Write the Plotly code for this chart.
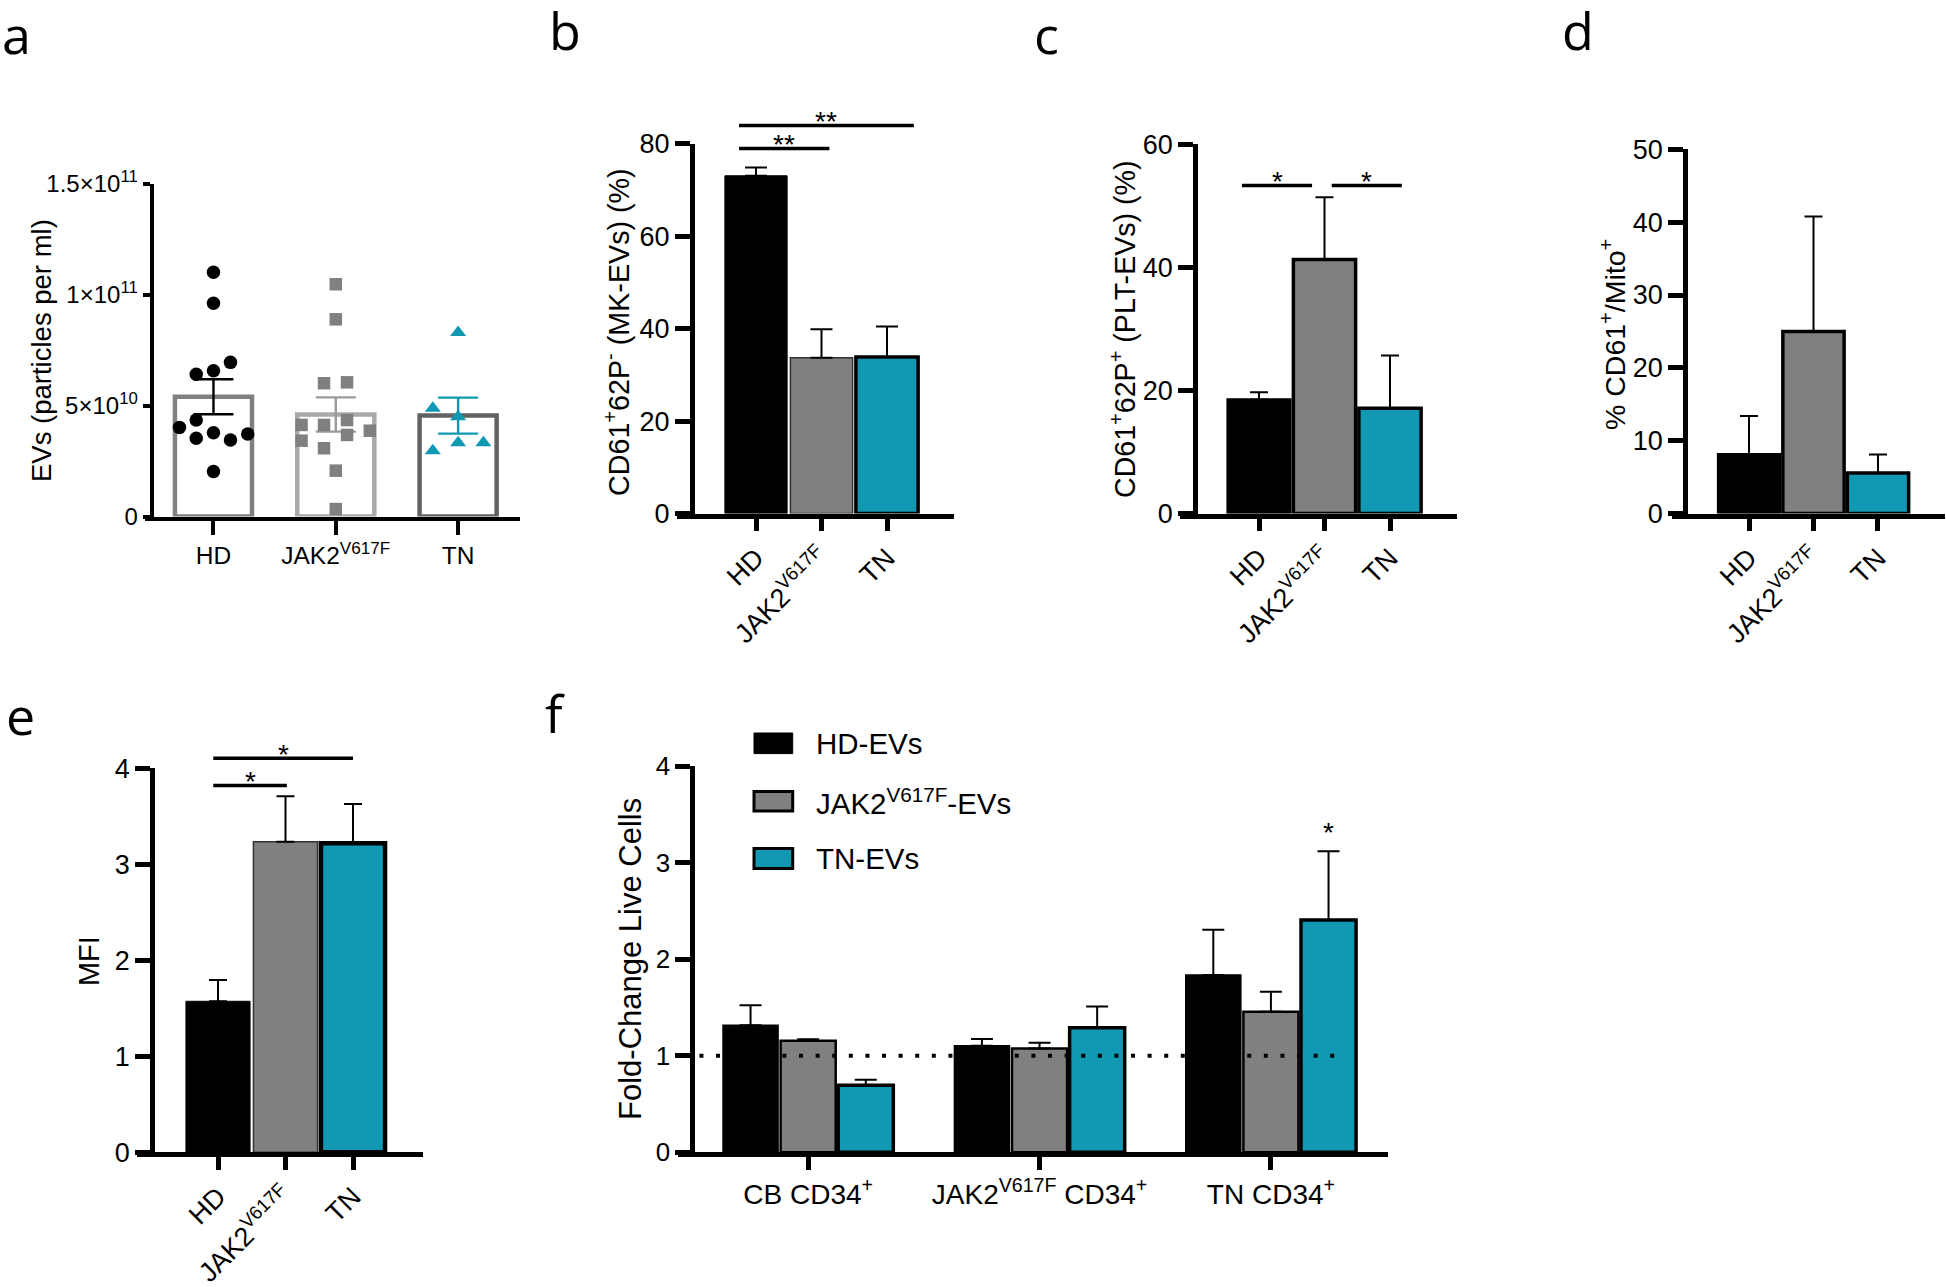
import plotly.graph_objects as go

# picture size (page body margin is removed in the written page)
W, H = 1946, 1287

# ---------------- data ----------------
groups = ["HD", "JAK2<sup>V617F</sup>", "TN"]
col_hd, col_jak2, col_tn = "#000000", "#808080", "#1199B4"

# panel a: individual samples (particles per ml)
a_hd = [1.101e11, 0.961e11, 0.695e11, 0.657e11, 0.641e11, 0.435e11,
        0.402e11, 0.378e11, 0.372e11, 0.353e11, 0.345e11, 0.203e11]
a_jak2 = [1.047e11, 0.889e11, 0.601e11, 0.605e11, 0.435e11, 0.413e11, 0.413e11,
          0.387e11, 0.368e11, 0.342e11, 0.308e11, 0.207e11, 0.034e11]
a_tn = [0.829e11, 0.488e11, 0.450e11, 0.333e11, 0.333e11, 0.297e11]
a_mean = [5.40e10, 4.60e10, 4.55e10]
a_sem = [0.79e10, 0.77e10, 0.81e10]
a_ytickvals = [0, 5e10, 1e11, 1.5e11]
a_yticktext = ["0", "5×10<sup>10</sup>", "1×10<sup>11</sup>", "1.5×10<sup>11</sup>"]

# panels b-e: mean and upper error
b_mean = [73.1, 33.7, 33.9]
b_err = [1.8, 6.2, 6.6]
c_mean = [18.5, 41.3, 17.1]
c_err = [1.2, 10.1, 8.6]
d_mean = [8.1, 25.0, 5.55]
d_err = [5.3, 15.8, 2.55]
e_mean = [1.573, 3.234, 3.218]
e_err = [0.221, 0.476, 0.41]

# panel f
f_cats = ["CB CD34<sup>+</sup>", "JAK2<sup>V617F</sup> CD34<sup>+</sup>", "TN CD34<sup>+</sup>"]
f_series = ["HD-EVs", "JAK2<sup>V617F</sup>-EVs", "TN-EVs"]
f_hd = [1.315, 1.102, 1.836]
f_hd_err = [0.208, 0.072, 0.469]
f_jak2 = [1.154, 1.074, 1.455]
f_jak2_err = [0.016, 0.060, 0.208]
f_tn = [0.693, 1.290, 2.405]
f_tn_err = [0.057, 0.221, 0.713]
f_baseline = 1.0

# significance labels
b_sig = ["**", "**"]
c_sig = ["*", "*"]
e_sig = ["*", "*"]
f_sig = "*"

# ---------------- layout geometry (pixels of the picture) ----------------
P = {
    "a": dict(x0=144.6, x1=520, ylo=516.6, yhi=183.7, xr=(-0.563, 2.506), yr=(0, 1.5e11), ypx=152),
    "b": dict(x0=676.7, x1=954, ylo=513.5, yhi=143.9, xr=(-1.211, 3.023), yr=(0, 80), ypx=691.7),
    "c": dict(x0=1180, x1=1456.7, ylo=513.5, yhi=144.4, xr=(-1.206, 3.018), yr=(0, 60), ypx=1195),
    "d": dict(x0=1672, x1=1945, ylo=513.5, yhi=149.4, xr=(-1.194, 3.039), yr=(0, 50), ypx=1685),
    "e": dict(x0=137, x1=423, ylo=1152.3, yhi=768.3, xr=(-1.2, 3.037), yr=(0, 4), ypx=152),
    "f": dict(x0=677.9, x1=1388, ylo=1152.3, yhi=766, xr=(-0.563, 2.506), yr=(0, 4), ypx=692.2),
}
ids = {"a": "", "b": "2", "c": "3", "d": "4", "e": "5", "f": "6"}
FONT = "Liberation Sans, Arial, sans-serif"


def px(x):
    return x / W


def py(y):
    return 1 - y / H


def d2p(p, x, y):
    g = P[p]
    X = g["x0"] + (x - g["xr"][0]) / (g["xr"][1] - g["xr"][0]) * (g["x1"] - g["x0"])
    Y = g["ylo"] - (y - g["yr"][0]) / (g["yr"][1] - g["yr"][0]) * (g["ylo"] - g["yhi"])
    return X, Y


fig = go.Figure()
layout = dict(width=W, height=H, margin=dict(l=0, r=0, t=0, b=0),
              paper_bgcolor="white", plot_bgcolor="white", showlegend=False,
              barmode="overlay", font=dict(family=FONT, color="black"))
shapes, annotations = [], []


def axes(p, tickvals, ticktext, tickangle, xsize, ysize, lw, xtl, ytl, ytickvals=None, yticktext=None, dtick=None):
    g = P[p]
    i = ids[p]
    layout["xaxis" + i] = dict(
        domain=[px(g["x0"]), px(g["x1"])], range=list(g["xr"]), anchor="y" + i,
        showline=True, linewidth=lw, linecolor="black", ticks="outside", ticklen=xtl,
        tickwidth=lw, tickcolor="black", tickvals=tickvals, ticktext=ticktext,
        tickangle=tickangle, tickfont=dict(family=FONT, size=xsize, color="black"),
        showgrid=False, zeroline=False, automargin=False)
    ya = dict(
        domain=[py(g["ylo"]), py(g["yhi"])], range=list(g["yr"]), anchor="free",
        position=px(g["ypx"]), showline=True, linewidth=lw, linecolor="black",
        ticks="outside", ticklen=ytl, tickwidth=lw, tickcolor="black",
        tickfont=dict(family=FONT, size=ysize, color="black"),
        showgrid=False, zeroline=False, automargin=False)
    if ytickvals is not None:
        ya.update(tickvals=ytickvals, ticktext=yticktext)
    if dtick is not None:
        ya.update(tickmode="linear", tick0=0, dtick=dtick)
    layout["yaxis" + i] = ya


def ytitle(text, x, y, size):
    annotations.append(dict(text=text, x=px(x), y=py(y), xref="paper", yref="paper",
                            showarrow=False, textangle=-90, xanchor="center", yanchor="middle",
                            font=dict(family=FONT, size=size, color="black")))


def letter(t, x, y):
    annotations.append(dict(text=t, x=px(x), y=py(y), xref="paper", yref="paper",
                            showarrow=False, xanchor="left", yanchor="middle",
                            font=dict(family="Open Sans, Noto Sans, sans-serif", size=52, color="black")))


def sig(p, xa, xb, yv, text, size=28):
    X0, Y0 = d2p(p, xa, yv)
    X1, _ = d2p(p, xb, yv)
    shapes.append(dict(type="line", xref="paper", yref="paper", x0=px(X0), x1=px(X1),
                       y0=py(Y0), y1=py(Y0), line=dict(color="black", width=3.5)))
    annotations.append(dict(text=text, x=px((X0 + X1) / 2), y=py(Y0 - 4), xref="paper", yref="paper",
                            showarrow=False, xanchor="center", yanchor="middle",
                            font=dict(family=FONT, size=size, color="black")))


# ---------------- panel a ----------------
a_off_hd = [0, 0, 0.139, 0, -0.141, -0.141, -0.278, 0, 0.280, -0.141, 0.139, 0]
a_off_jak2 = [0, 0, -0.096, 0.092, 0.092, -0.28, -0.096, 0.278, 0.092, -0.28, -0.096, 0, 0]
a_off_tn = [0, -0.207, 0, 0, 0.207, -0.207]
a_edge = ["#808080", "#a9a9a9", "#626262"]
a_errc = ["#000000", "#9a9a9a", col_tn]
for k in range(3):
    fig.add_trace(go.Bar(x=[k], y=[a_mean[k]], width=0.63, offset=-0.315,
                         marker=dict(color="rgba(255,255,255,0)", line=dict(color=a_edge[k], width=4.5)),
                         error_y=dict(type="data", array=[a_sem[k]], symmetric=True,
                                      color=a_errc[k], thickness=2.4, width=20),
                         xaxis="x", yaxis="y"))
pts = [(a_hd, a_off_hd, 0, "circle", col_hd, 13.5),
       (a_jak2, a_off_jak2, 1, "square", col_jak2, 12.5),
       (a_tn, a_off_tn, 2, "triangle-up", col_tn, 14)]
for vals, offs, k, sym, c, s in pts:
    fig.add_trace(go.Scatter(x=[k + o for o in offs], y=vals, mode="markers",
                             marker=dict(symbol=sym, color=c, size=s, line=dict(width=0)),
                             xaxis="x", yaxis="y", cliponaxis=False))
axes("a", [0, 1, 2], groups, 0, 24.5, 24, 3.8, 14, 7.5, a_ytickvals, a_yticktext)
ytitle("EVs (particles per ml)", 41, 351, 27.5)

# ---------------- panels b-e ----------------
fills = [col_hd, col_jak2, col_tn]


def bar_panel(p, mean, err, edges, capw):
    i = ids[p]
    for k in range(3):
        fig.add_trace(go.Bar(x=[k], y=[mean[k]], width=0.95, offset=-0.475,
                             marker=dict(color=fills[k], line=dict(color=edges[k][0], width=edges[k][1])),
                             error_y=dict(type="data", array=[err[k]], arrayminus=[0], symmetric=False,
                                          color="black", thickness=2, width=capw),
                             xaxis="x" + i, yaxis="y" + i))


bar_panel("b", b_mean, b_err, [("black", 1), ("#333333", 1.5), ("black", 3.5)], 11)
axes("b", [0, 1, 2], groups, -45, 27, 27, 4.5, 13, 15, dtick=20)
ytitle("CD61<sup>+</sup>62P<sup>-</sup> (MK-EVs) (%)", 617, 332, 28.7)
sig("b", -0.26, 1.12, 79.0, b_sig[0])
sig("b", -0.26, 2.41, 84.0, b_sig[1])

bar_panel("c", c_mean, c_err, [("black", 3), ("black", 3.5), ("black", 3.5)], 9)
axes("c", [0, 1, 2], groups, -45, 27, 27, 4.5, 13, 15, dtick=20)
ytitle("CD61<sup>+</sup>62P<sup>+</sup> (PLT-EVs) (%)", 1123, 329, 28.6)
sig("c", -0.26, 0.81, 53.3, c_sig[0])
sig("c", 1.11, 2.18, 53.3, c_sig[1])

bar_panel("d", d_mean, d_err, [("black", 3), ("black", 3.5), ("black", 3.5)], 9)
axes("d", [0, 1, 2], groups, -45, 27, 27, 4.5, 13, 15, dtick=10)
ytitle("% CD61<sup>+</sup>/Mito<sup>+</sup>", 1613, 335, 28.5)

bar_panel("e", e_mean, e_err, [("black", 1), ("#333333", 1.5), ("black", 4.5)], 9)
axes("e", [0, 1, 2], groups, -45, 27, 27, 4.5, 13, 15, dtick=1)
ytitle("MFI", 88.5, 961.6, 29)
sig("e", -0.07, 1.02, 3.82, e_sig[0])
sig("e", -0.07, 2.0, 4.105, e_sig[1])

# ---------------- panel f ----------------
f_data = [(f_hd, f_hd_err, col_hd, 1.5, -0.249),
          (f_jak2, f_jak2_err, col_jak2, 2.5, 0.0),
          (f_tn, f_tn_err, col_tn, 3.5, 0.249)]
fw = 0.238
for vals, errs, c, lwid, shift in f_data:
    fig.add_trace(go.Bar(x=[0, 1, 2], y=vals, width=fw, offset=shift - fw / 2,
                         marker=dict(color=c, line=dict(color="black", width=lwid)),
                         error_y=dict(type="data", array=errs, arrayminus=[0, 0, 0], symmetric=False,
                                      color="black", thickness=2, width=11),
                         xaxis="x6", yaxis="y6"))
axes("f", [0, 1, 2], f_cats, 0, 28, 26, 4.5, 13, 15, dtick=1)
ytitle("Fold-Change Live Cells", 630, 959, 31)
shapes.append(dict(type="line", xref="x6", yref="y6", x0=-0.47, x1=2.327, y0=f_baseline, y1=f_baseline,
                   layer="above", line=dict(color="black", width=4, dash="4px,12.6px")))
# star over TN-EVs in TN CD34+
sx, sy = d2p("f", 2 + 0.249, f_tn[2] + f_tn_err[2])
annotations.append(dict(text=f_sig, x=px(sx), y=py(sy - 19), xref="paper", yref="paper",
                        showarrow=False, xanchor="center", yanchor="middle",
                        font=dict(family=FONT, size=28, color="black")))
# legend
leg_y = [(733, 753.6), (791.5, 810.9), (848.4, 868.5)]
for (name, c, lw2), (y0, y1) in zip([(f_series[0], col_hd, 1), (f_series[1], col_jak2, 3), (f_series[2], col_tn, 3)], leg_y):
    shapes.append(dict(type="rect", xref="paper", yref="paper", x0=px(754), x1=px(792.7),
                       y0=py(y1), y1=py(y0), fillcolor=c, line=dict(color="black", width=lw2)))
    annotations.append(dict(text=name, x=px(814), y=py((y0 + y1) / 2), xref="paper", yref="paper",
                            showarrow=False, xanchor="left", yanchor="middle",
                            font=dict(family=FONT, size=29.5, color="black")))

# ---------------- panel letters ----------------
letter("a", 0, 33)
letter("b", 547, 29)
letter("c", 1032, 33)
letter("d", 1560, 29)
letter("e", 4, 714)
letter("f", 543, 712)

layout["shapes"] = shapes
layout["annotations"] = annotations
fig.update_layout(**layout)
fig.write_html("out.html", config={"displayModeBar": False},
               post_script="document.body.style.margin='0px';")
